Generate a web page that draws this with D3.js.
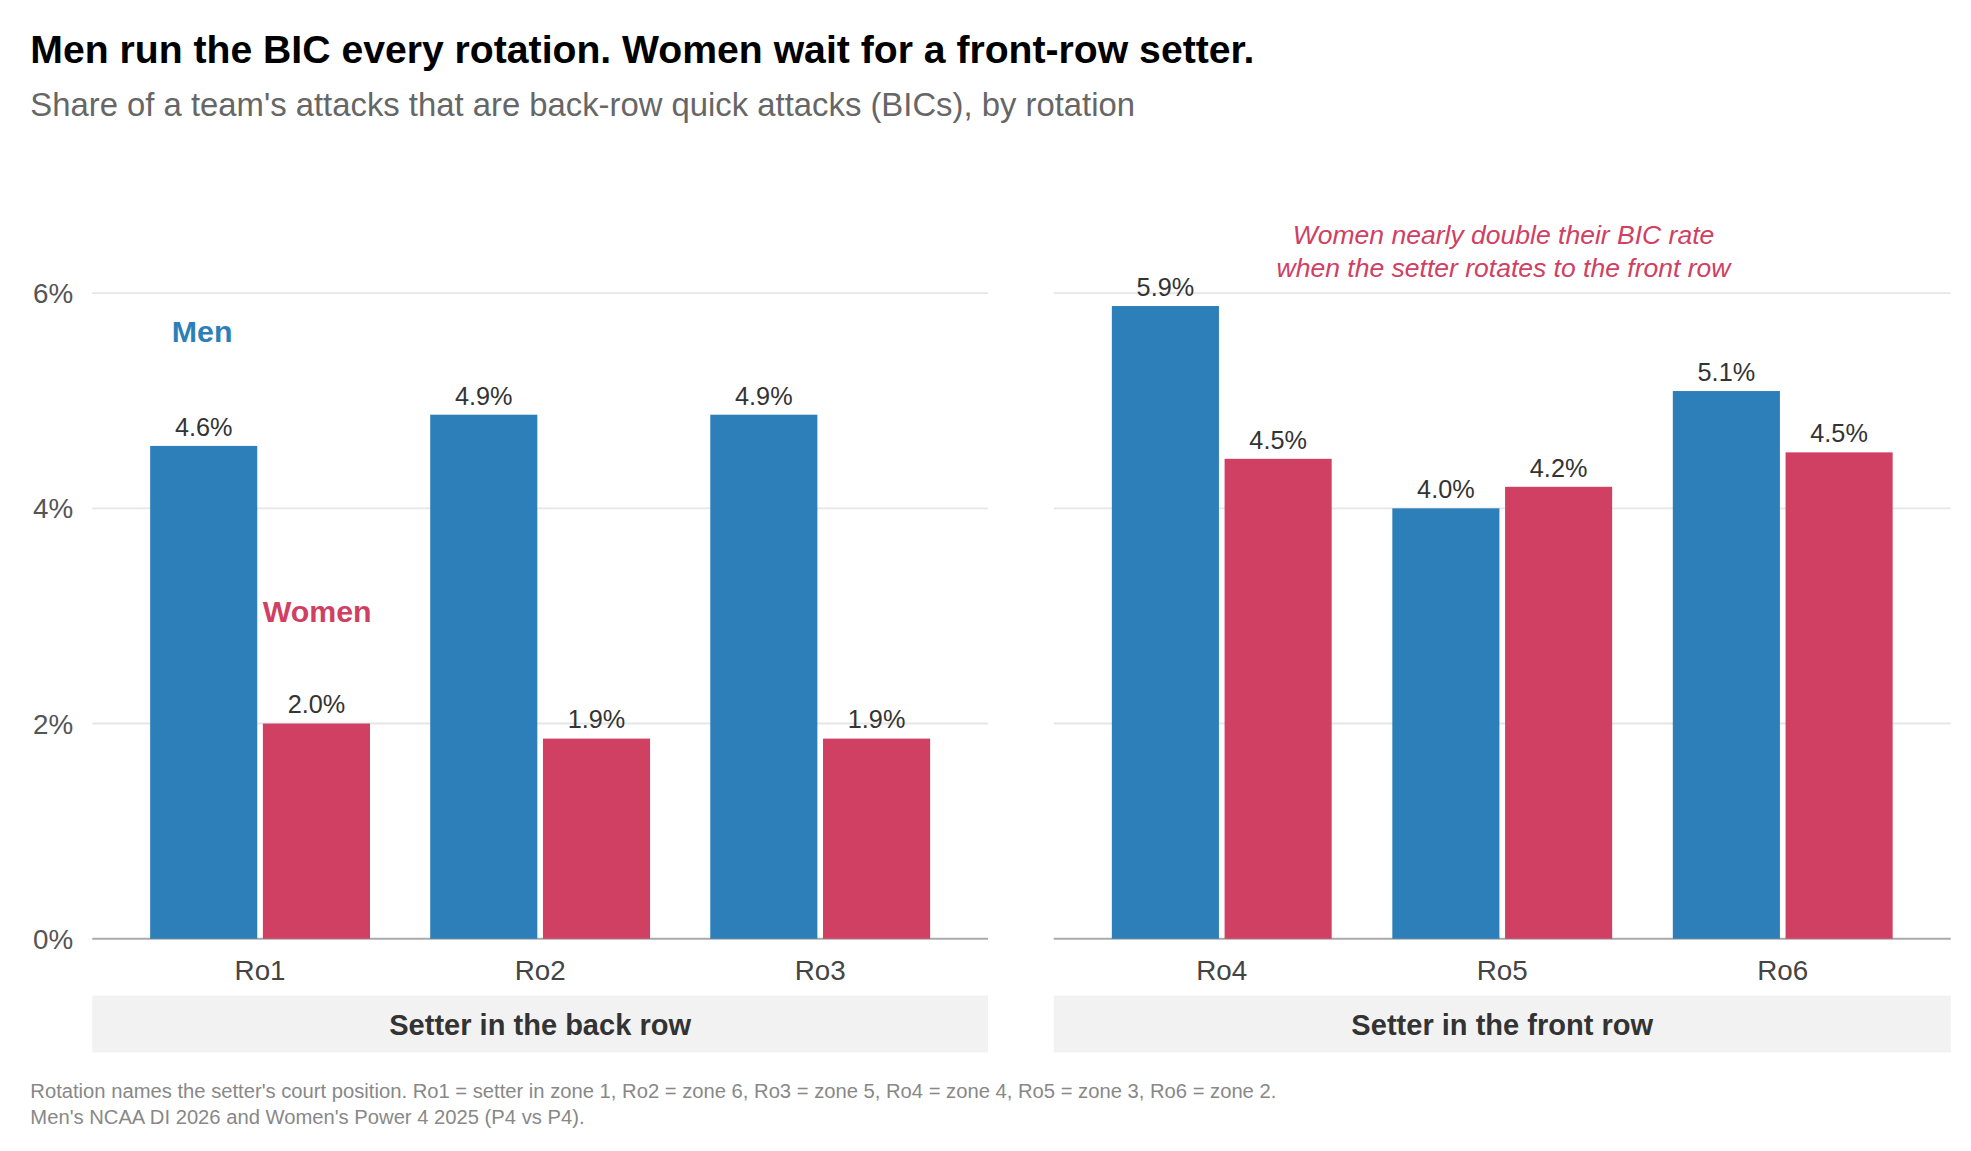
<!DOCTYPE html>
<html><head><meta charset="utf-8">
<script src="https://cdn.jsdelivr.net/npm/d3@7"></script>
<style>body{margin:0;background:#fff}svg{display:block;font-family:"Liberation Sans",Arial,sans-serif}</style>
</head><body>
<svg width="1971" height="1151" viewBox="0 0 1560 911"></svg>
<script>
var rotations = ["Ro1", "Ro2", "Ro3", "Ro4", "Ro5", "Ro6"],
    menValues = [4.58, 4.87, 4.87, 5.88, 4.0, 5.09],
    womenValues = [2.0, 1.86, 1.86, 4.46, 4.2, 4.52],
    menLabels = ["4.6%", "4.9%", "4.9%", "5.9%", "4.0%", "5.1%"],
    womenLabels = ["2.0%", "1.9%", "1.9%", "4.5%", "4.2%", "4.5%"],
    panels = ["Setter in the back row", "Setter in the front row"],
    yTicks = [0, 2, 4, 6];

var blue = "#2c7fb8", red = "#d04063";
var svg = d3.select("svg");

svg.append("text").attr("x", 24).attr("y", 50).attr("font-size", 31).attr("font-weight", "bold")
    .text("Men run the BIC every rotation. Women wait for a front-row setter.");
svg.append("text").attr("x", 24).attr("y", 92).attr("font-size", 26).attr("fill", "#666")
    .text("Share of a team's attacks that are back-row quick attacks (BICs), by rotation");

var y = d3.scaleLinear().domain([0, 6]).range([743, 232]);
var panelX = [[73, 782], [834, 1544]];

panels.forEach(function(p, pi) {
  var x0 = panelX[pi][0], x1 = panelX[pi][1];
  var g = svg.append("g");
  g.selectAll(".grid").data(yTicks.slice(1)).enter().append("line")
      .attr("x1", x0).attr("x2", x1).attr("y1", y).attr("y2", y)
      .attr("stroke", "#e6e6e6").attr("stroke-width", 1.5);
  g.append("line").attr("x1", x0).attr("x2", x1).attr("y1", y(0)).attr("y2", y(0))
      .attr("stroke", "#aaa").attr("stroke-width", 1.5);

  var cats = rotations.slice(pi * 3, pi * 3 + 3);
  var xb = d3.scaleBand().domain(cats).range([x0 + 22, x1 - 22]);
  var xs = d3.scaleBand().domain(["m", "w"]).range([xb.bandwidth() / 2 - 87, xb.bandwidth() / 2 + 87]).paddingInner(0.05);

  cats.forEach(function(c, ci) {
    var i = pi * 3 + ci;
    [["m", menValues[i], menLabels[i], blue], ["w", womenValues[i], womenLabels[i], red]].forEach(function(d) {
      var bx = xb(c) + xs(d[0]);
      g.append("rect").attr("x", bx).attr("width", xs.bandwidth())
          .attr("y", y(d[1])).attr("height", y(0) - y(d[1])).attr("fill", d[3]);
      g.append("text").attr("x", bx + xs.bandwidth() / 2).attr("y", y(d[1]) - 8)
          .attr("text-anchor", "middle").attr("font-size", 20).attr("fill", "#333").text(d[2]);
    });
    g.append("text").attr("x", xb(c) + xb.bandwidth() / 2).attr("y", 776)
        .attr("text-anchor", "middle").attr("font-size", 22).attr("fill", "#444").text(c);
  });

  g.append("rect").attr("x", x0).attr("y", 788).attr("width", x1 - x0).attr("height", 45).attr("fill", "#f2f2f2");
  g.append("text").attr("x", (x0 + x1) / 2).attr("y", 819).attr("text-anchor", "middle")
      .attr("font-size", 23).attr("font-weight", "bold").attr("fill", "#333").text(p);
});

svg.selectAll(".ytick").data(yTicks).enter().append("text")
    .attr("x", 58).attr("y", function(d) { return y(d) + 8; }).attr("text-anchor", "end")
    .attr("font-size", 22).attr("fill", "#555").text(function(d) { return d + "%"; });

svg.append("text").attr("x", 160).attr("y", 271).attr("text-anchor", "middle").attr("font-size", 24)
    .attr("font-weight", "bold").attr("fill", blue).text("Men");
svg.append("text").attr("x", 251).attr("y", 492).attr("text-anchor", "middle").attr("font-size", 24)
    .attr("font-weight", "bold").attr("fill", red).text("Women");

var ann = svg.append("text").attr("text-anchor", "middle").attr("font-size", 21)
    .attr("font-style", "italic").attr("fill", red);
ann.append("tspan").attr("x", 1190).attr("y", 193).text("Women nearly double their BIC rate");
ann.append("tspan").attr("x", 1190).attr("y", 219).text("when the setter rotates to the front row");

svg.append("text").attr("x", 24).attr("y", 869).attr("font-size", 16).attr("fill", "#888")
    .text("Rotation names the setter's court position. Ro1 = setter in zone 1, Ro2 = zone 6, Ro3 = zone 5, Ro4 = zone 4, Ro5 = zone 3, Ro6 = zone 2.");
svg.append("text").attr("x", 24).attr("y", 890).attr("font-size", 16).attr("fill", "#888")
    .text("Men's NCAA DI 2026 and Women's Power 4 2025 (P4 vs P4).");
</script>
</body></html>
